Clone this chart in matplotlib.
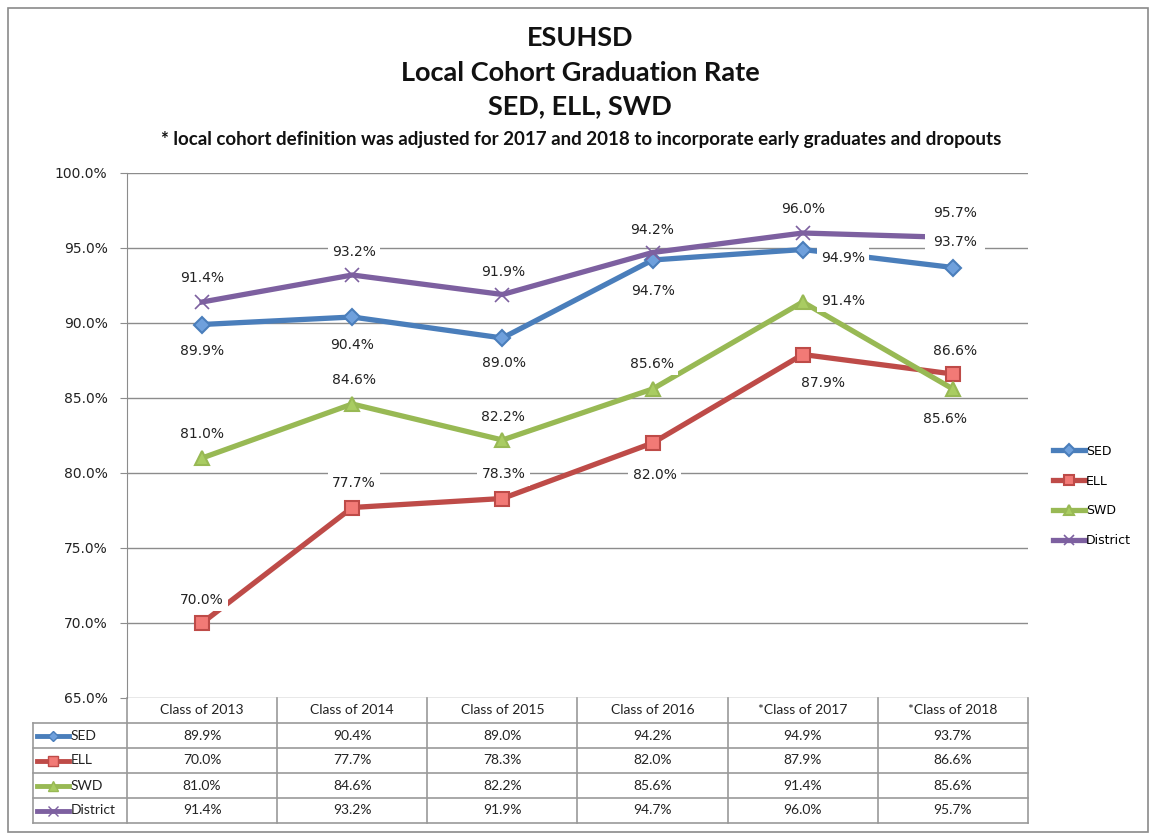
import numpy as np
import matplotlib
matplotlib.use("Agg")
import matplotlib.pyplot as plt
from matplotlib.patches import Rectangle
from matplotlib.lines import Line2D

# data
classes = ["Class of 2013", "Class of 2014", "Class of 2015", "Class of 2016",
           "*Class of 2017", "*Class of 2018"]
series_names = ["SED", "ELL", "SWD", "District"]
sed = [89.9, 90.4, 89.0, 94.2, 94.9, 93.7]
ell = [70.0, 77.7, 78.3, 82.0, 87.9, 86.6]
swd = [81.0, 84.6, 82.2, 85.6, 91.4, 85.6]
district = [91.4, 93.2, 91.9, 94.7, 96.0, 95.7]
yticks = [65, 70, 75, 80, 85, 90, 95, 100]

# styles
styles = {
    "SED": dict(color="#4a7ebb", marker="D", mfc="#6fa0dc", mec="#4a7ebb", ms=8),
    "ELL": dict(color="#be4b48", marker="s", mfc="#f27a76", mec="#be4b48", ms=10),
    "SWD": dict(color="#98b954", marker="^", mfc="#a9cc62", mec="#98b954", ms=10),
    "District": dict(color="#7d60a0", marker="x", mfc="#7d60a0", mec="#7d60a0", ms=10),
}
# label offsets in pixels (dx, dy)
offsets = {
    "SED": [(0, -27), (0, -28), (2, -25), (0, -31), (40, -9), (2, 25)],
    "ELL": [(0, 23), (2, 24), (1, 24), (2, -32), (20, -29), (2, 23)],
    "SWD": [(0, 24), (2, 24), (1, 23), (-1, 25), (40, 1), (-8, -30)],
    "District": [(0, 24), (2, 23), (1, 22), (-1, 22), (0, 24), (2, 24)],
}

fig = plt.figure(figsize=(11.51, 8.34), dpi=100)
W, H = 1151, 834
ax = fig.add_axes([127 / W, 1 - 698 / H, 901 / W, 525 / H])

data = {"SED": sed, "ELL": ell, "SWD": swd, "District": district}
x = np.arange(len(classes))
handles = []
for name in series_names:
    st = styles[name]
    h, = ax.plot(x, data[name], color=st["color"], lw=3.8, marker=st["marker"],
                 ms=st["ms"], mfc=st["mfc"], mec=st["mec"], mew=1.5 if name != "District" else 1.2,
                 label=name, zorder=3, clip_on=False)
    handles.append(h)

# data labels (the 2016 SED/District label texts are swapped in the source chart)
for name in series_names:
    for i, v in enumerate(data[name]):
        txt = v
        if i == 3 and name == "SED":
            txt = district[3]
        elif i == 3 and name == "District":
            txt = sed[3]
        dx, dy = offsets[name][i]
        pad = 0.6 if (name == "SED" and i == 5) else 0.3
        ax.annotate(f"{txt:.1f}%", (x[i], v), xytext=(dx, dy), textcoords="offset pixels",
                    ha="center", va="center", fontsize=10, color="#222222",
                    bbox=dict(boxstyle=f"square,pad={pad}", fc="white", ec="none"), zorder=5)

ax.set_xlim(-0.5, 5.5)
ax.set_ylim(65, 100)
ax.set_yticks(yticks)
ax.set_yticklabels([f"{t:.1f}%" for t in yticks], fontsize=10, color="#222222")
ax.set_xticks([])
ax.grid(axis="y", color="#8c8c8c", lw=1)
ax.set_axisbelow(True)
for s in ["top", "right", "bottom"]:
    ax.spines[s].set_visible(False)
ax.spines["left"].set_color("#8c8c8c")
ax.tick_params(axis="y", length=5, color="#8c8c8c", pad=9)

# data table under the plot
rh = 25 / 525
left = -94 / 901
gc = "#9a9a9a"
tf = "Lato"
ncol = len(classes)
nrow = len(series_names)
# horizontal lines
ax.plot([0, 1], [-rh, -rh], color=gc, lw=1.2, transform=ax.transAxes, clip_on=False)
for r in range(1, nrow + 1):
    ax.plot([left, 1], [-rh * (r + 1), -rh * (r + 1)], color=gc, lw=1.2,
            transform=ax.transAxes, clip_on=False)
ax.plot([left, 0], [-rh, -rh], color=gc, lw=1.2, transform=ax.transAxes, clip_on=False)
# vertical lines
for c in range(ncol + 1):
    ax.plot([c / ncol, c / ncol], [0, -rh * (nrow + 1)], color=gc, lw=1.2,
            transform=ax.transAxes, clip_on=False)
ax.plot([left, left], [-rh, -rh * (nrow + 1)], color=gc, lw=1.2,
        transform=ax.transAxes, clip_on=False)
for c, lab in enumerate(classes):
    ax.text((c + 0.5) / ncol, -rh * 0.5, lab, transform=ax.transAxes, ha="center",
            va="center", fontsize=10, family=tf, color="#222222")
for r, name in enumerate(series_names):
    yc = -rh * (r + 1.5)
    for c in range(ncol):
        ax.text((c + 0.5) / ncol, yc, f"{data[name][c]:.1f}%", transform=ax.transAxes,
                ha="center", va="center", fontsize=10, family=tf, color="#222222")
    st = styles[name]
    ax.add_line(Line2D([left + 0.004, left + 0.040], [yc, yc], color=st["color"], lw=3.5,
                       transform=ax.transAxes, clip_on=False))
    ax.add_line(Line2D([left + 0.022], [yc], marker=st["marker"], ms=st["ms"] * 0.7,
                       mfc=st["mfc"], mec=st["mec"], lw=0, transform=ax.transAxes, clip_on=False))
    ax.text(left + 0.042, yc, name, transform=ax.transAxes, ha="left", va="center",
            fontsize=10, family=tf, color="#222222")

# legend
fig.legend(handles=handles, loc="center left", bbox_to_anchor=(1042 / W, 1 - 496 / H),
           frameon=False, fontsize=9, handlelength=2.5, handletextpad=0.1,
           labelspacing=1.35, markerscale=0.75)

# titles
for txt, yp in [("ESUHSD", 38), ("Local Cohort Graduation Rate", 73), ("SED, ELL, SWD", 106)]:
    fig.text(580 / W, 1 - yp / H, txt, ha="center", va="center", fontsize=19.5,
             fontweight="bold", family=tf, color="#111111")
fig.text(581 / W, 1 - 140 / H,
         "* local cohort definition was adjusted for 2017 and 2018 to incorporate early graduates and dropouts",
         ha="center", va="center", fontsize=13.5, fontweight="bold", family=tf, color="#111111")

# outer frame
fig.patches.append(Rectangle((8 / W, 2 / H), 1140 / W, 824 / H, transform=fig.transFigure,
                             fill=False, ec="#8a8a8a", lw=1.2))

fig.savefig("out.png", dpi=100)
